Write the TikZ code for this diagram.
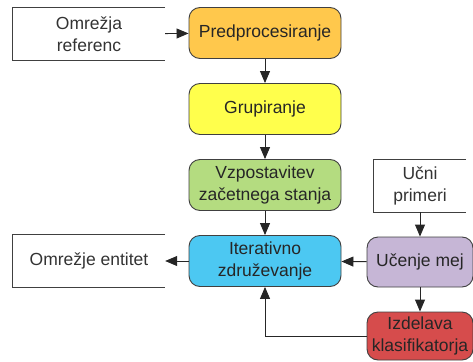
\documentclass[tikz,border=0pt]{standalone}
\usepackage{fontspec}
\setmainfont{Liberation Sans}
\usepackage{tikz}
\usetikzlibrary{arrows.meta}

\definecolor{cpre}{HTML}{FFC84C}
\definecolor{cgru}{HTML}{FFFF4C}
\definecolor{cvzp}{HTML}{B4DC80}
\definecolor{citer}{HTML}{4CC8F2}
\definecolor{cucm}{HTML}{C6B6D6}
\definecolor{cizd}{HTML}{D64C4C}

\tikzset{
	korak/.style={draw=black!75, line width=0.9pt, rounded corners=11pt, align=center,
		inner sep=0pt, minimum width=152pt, minimum height=51pt, text=black!85},
	podatki/.style={align=center, inner sep=0pt, minimum height=52pt, text=black!80},
	puscica/.style={-{Triangle[length=12pt,width=10pt]}, line width=0.9pt, black!85},
}

\begin{document}
\begin{tikzpicture}[x=1pt, y=-1pt, font=\fontsize{17.5}{22.5}\selectfont]
	\useasboundingbox (0,0) rectangle (473,361);

	\node [podatki, minimum width=152pt] (ref) at (89,34)	{Omrežja\\referenc};
	\node [korak, fill=cpre] (pre) at (265,33)	{Predprocesiranje};
	\node [korak, fill=cgru] (gru) at (265,109)	{Grupiranje};
	\node [korak, fill=cvzp] (vzp) at (265,185)	{Vzpostavitev\\začetnega stanja};
	\node [korak, fill=citer] (iter) at (265,261)	{Iterativno\\združevanje};
	\node [podatki, minimum width=152pt] (ent) at (89,261)	{Omrežje entitet};

	\node [podatki, minimum width=92pt] (ucni) at (420,186)	{Učni\\primeri};
	\node [korak, fill=cucm, minimum width=106pt, minimum height=50pt] (ucm) at (420,262)	{Učenje mej};
	\node [korak, fill=cizd, minimum width=106pt, minimum height=48pt] (izd) at (420,336)	{Izdelava\\klasifikatorja};

	% odprti okvirji podatkov
	\foreach \n in {ref, ent, ucni}
		\draw [line width=0.9pt, black!75] (\n.north east) -- (\n.north west) -- (\n.south west) -- (\n.south east);

	\path [puscica] (ref) edge (pre);
	\path [puscica] (pre) edge (gru);
	\path [puscica] (gru) edge (vzp);
	\path [puscica] (vzp) edge (iter);
	\path [puscica] (iter) edge (ent);
	\path [puscica] (ucm) edge (iter);
	\path [puscica] (ucni) edge (ucm);
	\path [puscica] (ucm) edge (izd);
	\draw [puscica] (izd.west) -| (iter.south);
\end{tikzpicture}
\end{document}
